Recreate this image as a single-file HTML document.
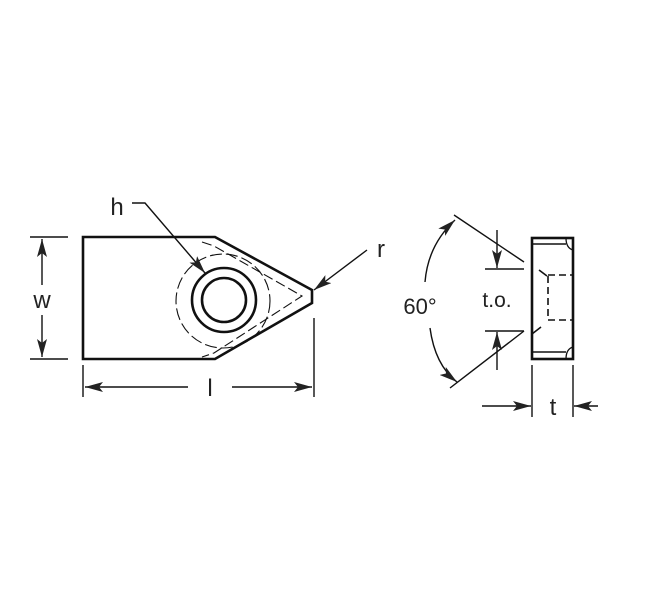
<!DOCTYPE html>
<html><head><style>body{margin:0;background:#fff}</style></head><body>
<svg width="650" height="602" viewBox="0 0 650 602" xmlns="http://www.w3.org/2000/svg">
<defs>
<marker id="a" viewBox="0 0 18 10" refX="18" refY="5" markerWidth="18" markerHeight="10" markerUnits="userSpaceOnUse" orient="auto"><path d="M0,0 L18,5 L0,10 L4,5z" fill="#222"/></marker>
</defs>
<g fill="none" stroke="#111">
<path d="M83,237 L215,237 L312,290 L312,303 L215,359 L83,359 Z" stroke-width="2.6"/>
<circle cx="224" cy="300" r="32" stroke-width="2.6"/>
<circle cx="224" cy="300" r="22" stroke-width="2.6"/>
<circle cx="223" cy="301" r="47" stroke-width="1.1" stroke-dasharray="12,4"/>
<path d="M202,242 L214,246 L302,296 L214,353 L202,357" stroke-width="1.1" stroke-dasharray="10,4"/>
<g stroke-width="1.4">
<path d="M30,237 H68 M30,359 H68"/>
<path d="M42,285 V239" marker-end="url(#a)"/>
<path d="M42,315 V357" marker-end="url(#a)"/>
<path d="M83,365 V397 M314,318 V397"/>
<path d="M188,387 H85" marker-end="url(#a)"/>
<path d="M232,387 H312" marker-end="url(#a)"/>
<path d="M132,203 H145 L205,273" marker-end="url(#a)"/>
<path d="M367,250 L314,290" marker-end="url(#a)"/>
<path d="M454,215 L524,262 M450,388 L524,331"/>
<path d="M425,282 Q428,245 455,220" marker-end="url(#a)"/>
<path d="M430,328 Q435,365 457,382" marker-end="url(#a)"/>
<path d="M485,269 H524 M485,331 H524"/>
<path d="M497,230 V268" marker-end="url(#a)"/>
<path d="M497,370 V332" marker-end="url(#a)"/>
<path d="M532,365 V417 M573,365 V417"/>
<path d="M482,406 H531" marker-end="url(#a)"/>
<path d="M598,406 H574" marker-end="url(#a)"/>
</g>
<rect x="532" y="238" width="41" height="121" stroke-width="2.6"/>
<path d="M533,244 H566 M533,352 H566" stroke-width="1.6"/>
<path d="M573,250 Q566,248 566,238 M573,347 Q566,349 566,359" stroke-width="1.3"/>
<path d="M539,270 L547,276" stroke-width="1.6"/>
<path d="M548,275 H573 M548,276 V320 H573" stroke-width="1.6" stroke-dasharray="7,4"/>
<path d="M532,334 L541,327" stroke-width="1.6"/>
</g>
<g font-family="Liberation Sans, sans-serif" fill="#222" text-anchor="middle">
<text x="117" y="215" font-size="24">h</text>
<text x="381" y="257" font-size="24">r</text>
<text x="42" y="308" font-size="24">w</text>
<text x="210" y="396" font-size="24">l</text>
<text x="420" y="314" font-size="22">60°</text>
<text x="497" y="307" font-size="21">t.o.</text>
<text x="553" y="415" font-size="24">t</text>
</g>
</svg>
</body></html>
